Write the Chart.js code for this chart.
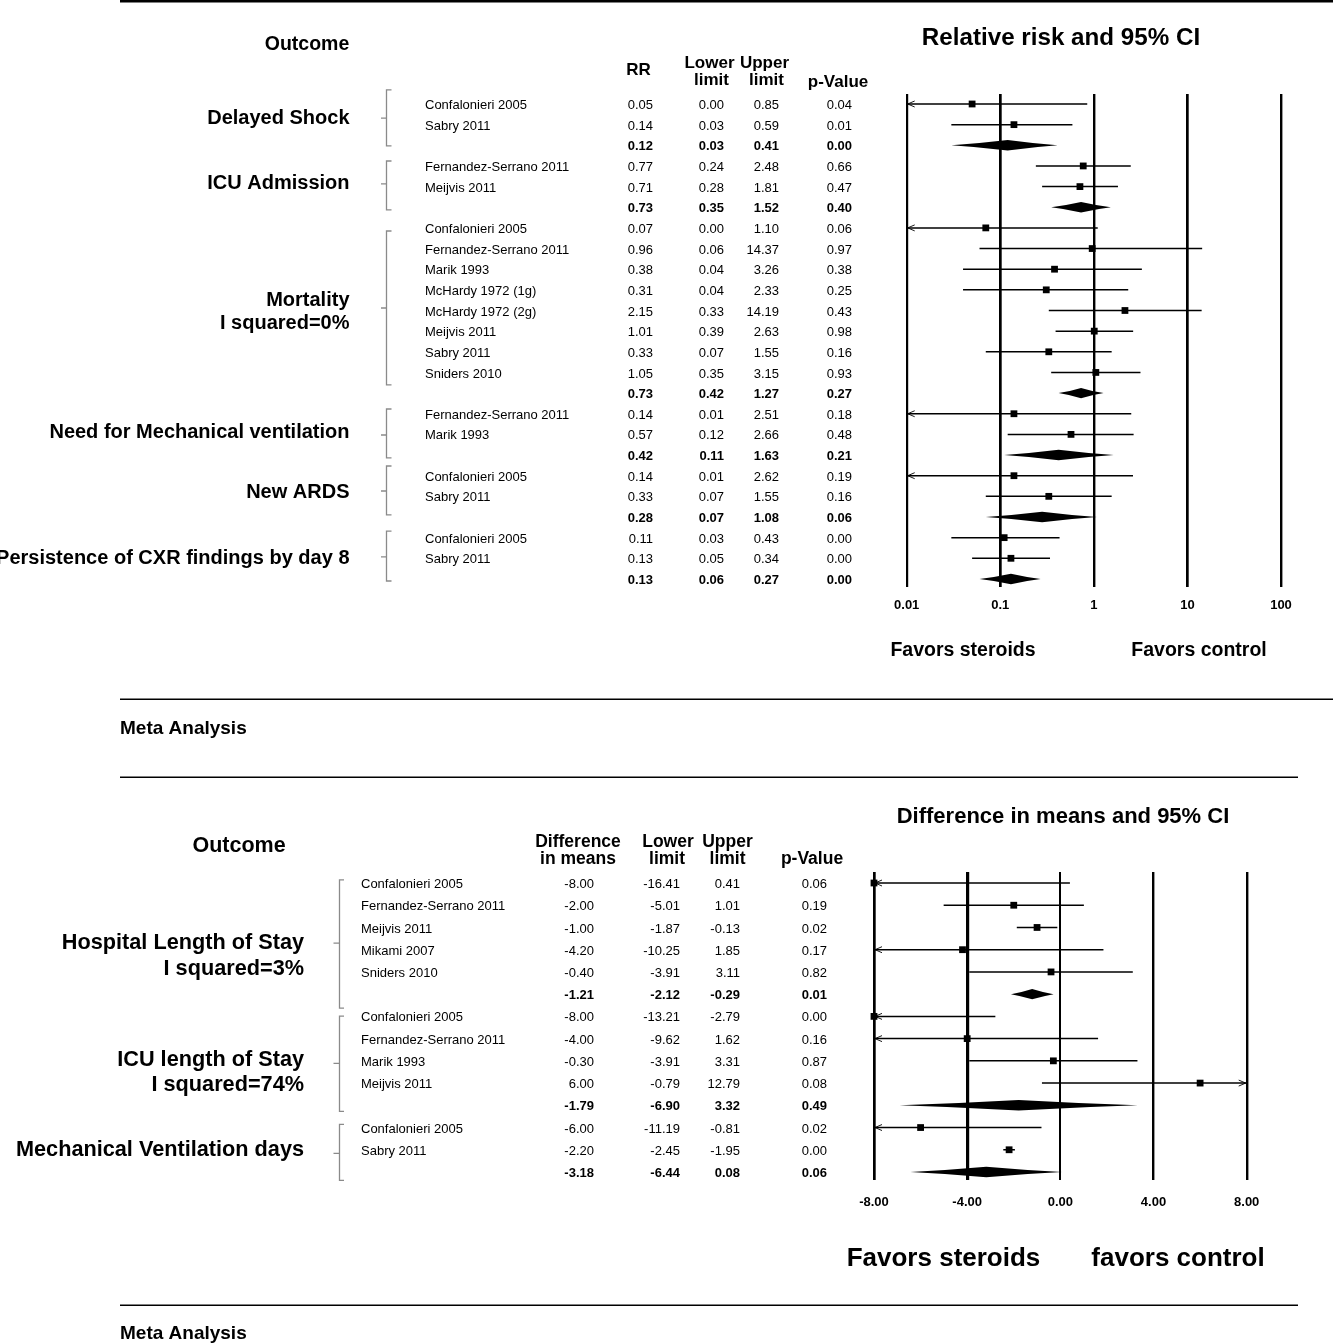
<!DOCTYPE html>
<html>
<head>
<meta charset="utf-8">
<script src="https://cdn.jsdelivr.net/npm/chart.js@4.4.1/dist/chart.umd.min.js"></script>
<style>
html,body{margin:0;padding:0;background:#fff;}
body{width:1333px;height:1343px;position:relative;overflow:hidden;}
canvas{position:absolute;left:0;}
#c1{top:0;}
#c2{top:760px;}
</style>
</head>
<body>
<canvas id="c1" width="1333" height="760"></canvas>
<canvas id="c2" width="1333" height="583"></canvas>
<script>
// ================= DATA =================
// --- Top panel: relative risk ---
const rrStudies = ["Confalonieri 2005","Sabry 2011","",
  "Fernandez-Serrano 2011","Meijvis 2011","",
  "Confalonieri 2005","Fernandez-Serrano 2011","Marik 1993","McHardy 1972 (1g)","McHardy 1972 (2g)","Meijvis 2011","Sabry 2011","Sniders 2010","",
  "Fernandez-Serrano 2011","Marik 1993","",
  "Confalonieri 2005","Sabry 2011","",
  "Confalonieri 2005","Sabry 2011",""];
const rrValues  = [0.05,0.14,0.12, 0.77,0.71,0.73, 0.07,0.96,0.38,0.31,2.15,1.01,0.33,1.05,0.73, 0.14,0.57,0.42, 0.14,0.33,0.28, 0.11,0.13,0.13];
const rrLower   = [0.00,0.03,0.03, 0.24,0.28,0.35, 0.00,0.06,0.04,0.04,0.33,0.39,0.07,0.35,0.42, 0.01,0.12,0.11, 0.01,0.07,0.07, 0.03,0.05,0.06];
const rrUpper   = [0.85,0.59,0.41, 2.48,1.81,1.52, 1.10,14.37,3.26,2.33,14.19,2.63,1.55,3.15,1.27, 2.51,2.66,1.63, 2.62,1.55,1.08, 0.43,0.34,0.27];
const rrPValues = [0.04,0.01,0.00, 0.66,0.47,0.40, 0.06,0.97,0.38,0.25,0.43,0.98,0.16,0.93,0.27, 0.18,0.48,0.21, 0.19,0.16,0.06, 0.00,0.00,0.00];
const rrOutcomes = [["Delayed Shock"],["ICU Admission"],["Mortality","I squared=0%"],["Need for Mechanical ventilation"],["New ARDS"],["Persistence of CXR findings by day 8"]];
const rrTicks = [0.01, 0.1, 1, 10, 100];
const rrTickLabels = ["0.01","0.1","1","10","100"];

// --- Bottom panel: difference in means ---
const mdStudies = ["Confalonieri 2005","Fernandez-Serrano 2011","Meijvis 2011","Mikami 2007","Sniders 2010","",
  "Confalonieri 2005","Fernandez-Serrano 2011","Marik 1993","Meijvis 2011","",
  "Confalonieri 2005","Sabry 2011",""];
const mdValues  = [-8.00,-2.00,-1.00,-4.20,-0.40,-1.21, -8.00,-4.00,-0.30,6.00,-1.79, -6.00,-2.20,-3.18];
const mdLower   = [-16.41,-5.01,-1.87,-10.25,-3.91,-2.12, -13.21,-9.62,-3.91,-0.79,-6.90, -11.19,-2.45,-6.44];
const mdUpper   = [0.41,1.01,-0.13,1.85,3.11,-0.29, -2.79,1.62,3.31,12.79,3.32, -0.81,-1.95,0.08];
const mdPValues = [0.06,0.19,0.02,0.17,0.82,0.01, 0.00,0.16,0.87,0.08,0.49, 0.02,0.00,0.06];
const mdOutcomes = [["Hospital Length of Stay","I squared=3%"],["ICU length of Stay","I squared=74%"],["Mechanical Ventilation days"]];
const mdTicks = [-8, -4, 0, 4, 8];
const mdTickLabels = ["-8.00","-4.00","0.00","4.00","8.00"];

// ================= LAYOUT =================
const FONT = '"Liberation Sans", Arial, Helvetica, sans-serif';
const TEXT_DY = 1.5;

const RR_LAYOUT = {
  canvasTop: 0, canvasH: 760,
  area: {left: 906.7, right: 1281, top: 94, bottom: 587},
  rowMin: -0.484, rowMax: 23.39,
  tickPad: 11, gridW: [2.2, 2.7, 2.4, 2.7, 2.4],
  studyX: 425, colRight: [653, 724, 779, 852],
  labelRight: 349.5, labelSize: 20,
  labelRows: [[0.63],[3.78],[9.44,10.56],[15.84],[18.74],[21.94]],
  bracketX: 386.5, hook: 5, midTick: 5.5,
  brackets: [[-0.68,2.03,0.68],[2.76,5.13,3.87],[6.15,13.6,9.88],[14.77,17.14,16.03],[17.53,19.9,18.74],[20.68,23.1,21.93]],
  rules: [[120,0,1333,2.5],[120,698.5,1333,1.5]],
  texts: [
    ["Outcome", 307, 43, 19.5],
    ["Relative risk and 95% CI", 1061, 37, 24.2],
    ["RR", 638.5, 69, 17],
    ["Lower", 709.5, 62, 17], ["limit", 711.5, 79, 17],
    ["Upper", 764.5, 62, 17], ["limit", 766.5, 79, 17],
    ["p-Value", 838, 80.5, 17],
    ["Favors steroids", 963, 649, 19.5],
    ["Favors control", 1199, 649, 19.5],
    ["Meta Analysis", 120, 727, 19, "left"]
  ]
};

const MD_LAYOUT = {
  canvasTop: 760, canvasH: 583,
  area: {left: 874, right: 1246.7, top: 872, bottom: 1180},
  rowMin: -0.495, rowMax: 13.36,
  tickPad: 15, gridW: [2.7, 3.2, 2.0, 2.4, 2.4],
  studyX: 361, colRight: [594, 680, 740, 827],
  labelRight: 304, labelSize: 21.7,
  labelRows: [[2.61,3.78],[7.88,9.01],[11.94]],
  bracketX: 339.5, hook: 4.5, midTick: 6,
  brackets: [[-0.14,5.63,2.70],[5.99,10.27,8.11],[10.86,13.38,12.16]],
  rules: [[120,776.5,1298,1.5],[120,1304.5,1298,1.5]],
  texts: [
    ["Outcome", 239, 845, 21.5],
    ["Difference in means and 95% CI", 1063, 815, 22],
    ["Difference", 578, 841, 17.5], ["in means", 578, 857.5, 17.5],
    ["Lower", 668, 841, 17.5], ["limit", 667, 857.5, 17.5],
    ["Upper", 727.5, 841, 17.5], ["limit", 727.5, 857.5, 17.5],
    ["p-Value", 812, 857.5, 17.5],
    ["Favors steroids", 943.5, 1257, 26],
    ["favors control", 1178, 1257, 26],
    ["Meta Analysis", 120, 1332, 19, "left"]
  ]
};

// ================= DRAWING =================
function drawText(ctx, s, x, y, size, bold, align) {
  ctx.font = (bold ? 'bold ' : '') + size + 'px ' + FONT;
  ctx.textAlign = align || 'left';
  ctx.textBaseline = 'middle';
  ctx.fillStyle = '#000';
  ctx.fillText(s, x, y + TEXT_DY);
}

function makeForestPlugin(cfg) {
  const L = cfg.layout;
  return {
    id: 'forest_' + cfg.id,
    beforeDatasetsDraw(chart) {
      const ctx = chart.ctx, xs = chart.scales.x, ys = chart.scales.y;
      ctx.save();
      ctx.strokeStyle = '#000';
      ctx.fillStyle = '#000';
      cfg.est.forEach((e, i) => {
        const y = ys.getPixelForValue(i);
        const lo = cfg.lo[i], hi = cfg.hi[i];
        const clipL = lo <= xs.min, clipR = hi >= xs.max;
        const xl = xs.getPixelForValue(clipL ? xs.min : lo);
        const xr = xs.getPixelForValue(clipR ? xs.max : hi);
        if (cfg.studies[i] === '') {
          const xc = xs.getPixelForValue(e), h = 5.2;
          ctx.beginPath();
          ctx.moveTo(xl, y);
          ctx.quadraticCurveTo((xl + xc) / 2, y - h * 0.35, xc, y - h);
          ctx.quadraticCurveTo((xc + xr) / 2, y - h * 0.35, xr, y);
          ctx.quadraticCurveTo((xc + xr) / 2, y + h * 0.35, xc, y + h);
          ctx.quadraticCurveTo((xl + xc) / 2, y + h * 0.35, xl, y);
          ctx.closePath();
          ctx.fill();
        } else {
          ctx.lineWidth = 1.5;
          ctx.beginPath();
          ctx.moveTo(xl, y); ctx.lineTo(xr, y);
          ctx.stroke();
          ctx.lineWidth = 0.9;
          if (clipL) {
            ctx.beginPath();
            ctx.moveTo(xl + 8, y - 3); ctx.lineTo(xl + 1, y); ctx.lineTo(xl + 8, y + 3);
            ctx.stroke();
          }
          if (clipR) {
            ctx.beginPath();
            ctx.moveTo(xr - 8, y - 3); ctx.lineTo(xr - 1, y); ctx.lineTo(xr - 8, y + 3);
            ctx.stroke();
          }
        }
      });
      ctx.restore();
    },
    afterDraw(chart) {
      const ctx = chart.ctx, ys = chart.scales.y, off = L.canvasTop;
      ctx.save();
      ctx.fillStyle = '#000';
      L.rules.forEach(r => ctx.fillRect(r[0], r[1] - off, r[2] - r[0], r[3]));
      L.texts.forEach(t => drawText(ctx, t[0], t[1], t[2] - off, t[3], true, t[4] || 'center'));
      cfg.studies.forEach((s, i) => {
        const y = ys.getPixelForValue(i);
        const bold = s === '';
        if (s) drawText(ctx, s, L.studyX, y, 13, false, 'left');
        [cfg.est[i], cfg.lo[i], cfg.hi[i], cfg.p[i]].forEach((v, k) =>
          drawText(ctx, v.toFixed(2), L.colRight[k], y, 13, bold, 'right'));
      });
      cfg.outcomes.forEach((lines, g) => lines.forEach((line, j) =>
        drawText(ctx, line, L.labelRight, ys.getPixelForValue(L.labelRows[g][j]), L.labelSize, true, 'right')));
      ctx.strokeStyle = '#8a8a8a';
      ctx.lineWidth = 1.3;
      L.brackets.forEach(b => {
        const t = ys.getPixelForValue(b[0]), bt = ys.getPixelForValue(b[1]), m = ys.getPixelForValue(b[2]);
        ctx.beginPath();
        ctx.moveTo(L.bracketX + L.hook, t); ctx.lineTo(L.bracketX, t);
        ctx.lineTo(L.bracketX, bt); ctx.lineTo(L.bracketX + L.hook, bt);
        ctx.moveTo(L.bracketX - L.midTick, m); ctx.lineTo(L.bracketX, m);
        ctx.stroke();
      });
      ctx.restore();
    }
  };
}

function forestChart(canvasId, cfg) {
  const L = cfg.layout;
  const axisH = 30;
  const points = cfg.est.map((v, i) => ({x: v, y: i})).filter((p, i) => cfg.studies[i] !== '');
  return new Chart(document.getElementById(canvasId), {
    type: 'scatter',
    data: {
      datasets: [{
        data: points,
        pointStyle: 'rect',
        pointRadius: 4.8,
        pointHoverRadius: 4.8,
        backgroundColor: '#000',
        borderColor: '#000',
        borderWidth: 0,
        clip: false
      }]
    },
    options: {
      responsive: false,
      animation: false,
      devicePixelRatio: 1,
      events: [],
      layout: {
        padding: {
          left: L.area.left,
          right: 1333 - L.area.right,
          top: L.area.top - L.canvasTop,
          bottom: L.canvasH - (L.area.bottom - L.canvasTop) - axisH
        }
      },
      plugins: { legend: {display: false}, tooltip: {enabled: false} },
      scales: {
        x: {
          type: cfg.xType,
          min: cfg.ticks[0],
          max: cfg.ticks[cfg.ticks.length - 1],
          position: 'bottom',
          afterBuildTicks: (s) => { s.ticks = cfg.ticks.map(v => ({value: v})); },
          afterFit: (s) => { s.height = axisH; },
          grid: { color: '#000', lineWidth: (c) => L.gridW[c.index] || 2.4, drawTicks: false },
          border: { display: false },
          ticks: {
            autoSkip: false, maxRotation: 0, minRotation: 0,
            padding: L.tickPad, color: '#000',
            font: { family: FONT, size: 13, weight: 'bold' },
            callback: (v, i) => cfg.tickLabels[i]
          }
        },
        y: { type: 'linear', display: false, min: L.rowMin, max: L.rowMax, reverse: true }
      }
    },
    plugins: [makeForestPlugin(cfg)]
  });
}

forestChart('c1', {
  id: 'rr', layout: RR_LAYOUT, xType: 'logarithmic',
  studies: rrStudies, est: rrValues, lo: rrLower, hi: rrUpper, p: rrPValues,
  outcomes: rrOutcomes, ticks: rrTicks, tickLabels: rrTickLabels
});
forestChart('c2', {
  id: 'md', layout: MD_LAYOUT, xType: 'linear',
  studies: mdStudies, est: mdValues, lo: mdLower, hi: mdUpper, p: mdPValues,
  outcomes: mdOutcomes, ticks: mdTicks, tickLabels: mdTickLabels
});
</script>
</body>
</html>
